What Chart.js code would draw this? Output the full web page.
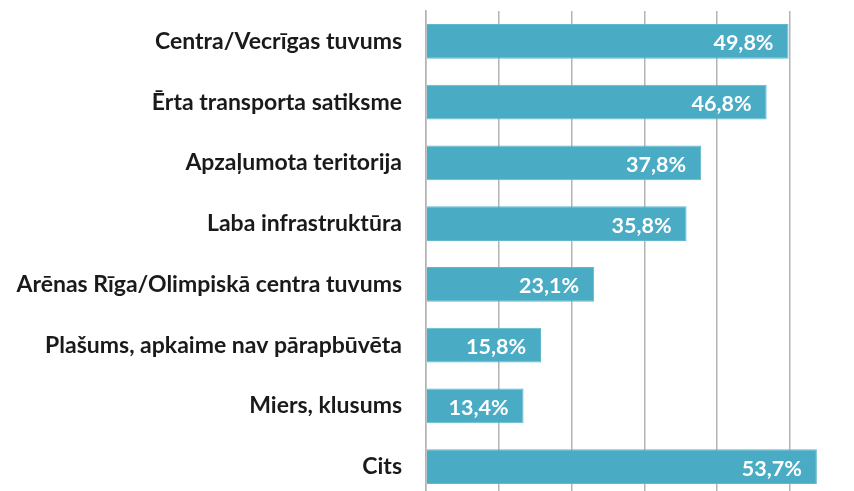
<!DOCTYPE html>
<html>
<head>
<meta charset="utf-8">
<script src="https://cdn.jsdelivr.net/npm/chart.js@4"></script>
<style>
  html, body { margin: 0; padding: 0; background: #fff; overflow: hidden; }
  #wrap { width: 854px; height: 497px; position: relative; }
</style>
</head>
<body>
<div id="wrap"><canvas id="chart"></canvas></div>
<script>
// categories and values (percent)
categories = [
    'Centra/Vecrīgas tuvums',
    'Ērta transporta satiksme',
    'Apzaļumota teritorija',
    'Laba infrastruktūra',
    'Arēnas Rīga/Olimpiskā centra tuvums',
    'Plašums, apkaime nav pārapbūvēta',
    'Miers, klusums',
    'Cits'
]
values = [49.8, 46.8, 37.8, 35.8, 23.1, 15.8, 13.4, 53.7]

barColor = '#4aabc5'
gridColor = '#b3b3b3'
fontFamily = 'Lato, "Open Sans", sans-serif'

// value labels drawn inside the end of each bar
const valueLabels = {
    id: 'valueLabels',
    afterDatasetsDraw(chart) {
        const ctx = chart.ctx
        const meta = chart.getDatasetMeta(0)
        ctx.save()
        ctx.font = 'bold 21.5px ' + fontFamily
        ctx.fillStyle = '#ffffff'
        ctx.textAlign = 'right'
        ctx.textBaseline = 'middle'
        meta.data.forEach(function (bar, i) {
            const txt = values[i].toFixed(1).replace('.', ',') + '%'
            ctx.fillText(txt, bar.x - 15, bar.y + 2)
        })
        ctx.restore()
    }
}

ctx = document.getElementById('chart')
new Chart(ctx, {
    type: 'bar',
    data: {
        labels: categories,
        datasets: [{
            data: values,
            backgroundColor: barColor,
            borderColor: '#62b8cf',
            borderWidth: 1,
            categoryPercentage: 1,
            barPercentage: 0.576
        }]
    },
    options: {
        indexAxis: 'y',
        responsive: true,
        maintainAspectRatio: false,
        animation: false,
        layout: { padding: { top: 11, left: 0, right: 0, bottom: 0 } },
        plugins: {
            legend: { display: false },
            tooltip: { enabled: false }
        },
        scales: {
            x: {
                min: 0,
                max: 58.8,
                afterFit: function (s) {
                    s.height = 0
                    s.paddingLeft = 0
                    s.paddingRight = 0
                },
                ticks: { display: false, stepSize: 10, includeBounds: false },
                grid: { color: gridColor, lineWidth: 1.5, drawTicks: false },
                border: { display: false }
            },
            y: {
                afterFit: function (s) {
                    s.width = 426
                    s.paddingTop = 0
                    s.paddingBottom = 0
                },
                grid: { display: false, drawTicks: false },
                border: { display: true, color: gridColor, width: 1.5 },
                ticks: {
                    padding: 24,
                    color: '#1a1a1a',
                    font: { family: fontFamily, size: 23, weight: 'bold' }
                }
            }
        }
    },
    plugins: [valueLabels]
});
</script>
</body>
</html>
